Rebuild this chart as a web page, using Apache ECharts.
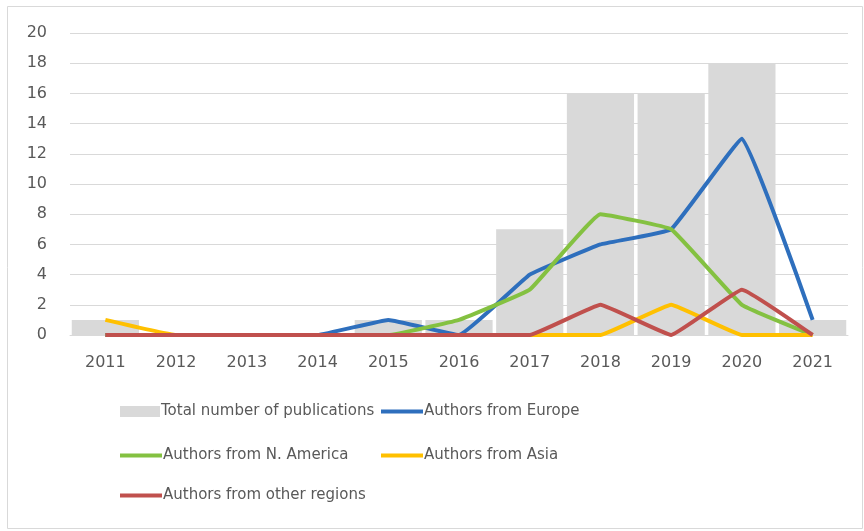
<!DOCTYPE html>
<html>
<head>
<meta charset="utf-8">
<script src="https://cdn.jsdelivr.net/npm/echarts@6/dist/echarts.min.js"></script>
<style>
  html, body { margin: 0; padding: 0; background: #fff; }
  #chart { width: 864px; height: 531px; }
</style>
</head>
<body>
<div id="chart"></div>
<script>
// years on the x axis
const years = ["2011", "2012", "2013", "2014", "2015", "2016", "2017", "2018", "2019", "2020", "2021"];

// values
const totalPubs = [1, 0, 0, 0, 1, 1, 7, 16, 16, 18, 1];
const europe = [0, 0, 0, 0, 1, 0, 4, 6, 7, 13, 1];
const nAmerica = [0, 0, 0, 0, 0, 1, 3, 8, 7, 2, 0];
const asia = [1, 0, 0, 0, 0, 0, 0, 0, 2, 0, 0];
const otherRegions = [0, 0, 0, 0, 0, 0, 0, 2, 0, 3, 0];

const FONT = "DejaVu Sans";
const TEXT = "#595959";

const chart = echarts.init(document.getElementById("chart"));

const lineSeries = (name, data, color) => ({
  name,
  type: "line",
  data,
  smooth: 0.08,
  symbol: "none",
  lineStyle: { color, width: 4 },
  itemStyle: { color },
});

// one legend block per item so they sit in two columns like the original
const legendAt = (name, left, top, isBar) => ({
  data: [name],
  left,
  top,
  icon: "rect",
  itemWidth: isBar ? 40 : 42,
  itemHeight: isBar ? 11 : 4,
  itemGap: 0,
  padding: 0,
  textStyle: { fontFamily: FONT, fontSize: 15, color: TEXT, padding: [0, 0, 0, -4] },
  selectedMode: false,
});

chart.setOption({
  animation: false,
  backgroundColor: "#fff",
  graphic: [
    {
      type: "rect",
      shape: { x: 7.5, y: 6.5, width: 855, height: 522 },
      style: { fill: "none", stroke: "#d9d9d9", lineWidth: 1 },
      silent: true,
    },
  ],
  grid: { left: 70, right: 16, top: 33, bottom: 196 },
  legend: [
    legendAt("Total number of publications", 120, 404, true),
    legendAt("Authors from Europe", 381, 404),
    legendAt("Authors from N. America", 120, 448),
    legendAt("Authors from Asia", 381, 448),
    legendAt("Authors from other regions", 120, 488),
  ],
  xAxis: {
    type: "category",
    data: years,
    axisLine: { lineStyle: { color: "#d9d9d9" } },
    axisTick: { show: false },
    axisLabel: { fontFamily: FONT, fontSize: 16, color: TEXT, margin: 20 },
  },
  yAxis: {
    type: "value",
    min: 0,
    max: 20,
    interval: 2,
    axisLine: { show: false },
    axisTick: { show: false },
    axisLabel: { fontFamily: FONT, fontSize: 16, color: TEXT, margin: 23 },
    splitLine: { lineStyle: { color: "#d9d9d9", width: 1 } },
  },
  series: [
    {
      name: "Total number of publications",
      type: "bar",
      data: totalPubs,
      barCategoryGap: "5%",
      itemStyle: { color: "#d9d9d9" },
    },
    lineSeries("Authors from Europe", europe, "#2e6fbd"),
    lineSeries("Authors from N. America", nAmerica, "#84c141"),
    lineSeries("Authors from Asia", asia, "#ffc000"),
    lineSeries("Authors from other regions", otherRegions, "#c0504d"),
  ],
});
</script>
</body>
</html>
